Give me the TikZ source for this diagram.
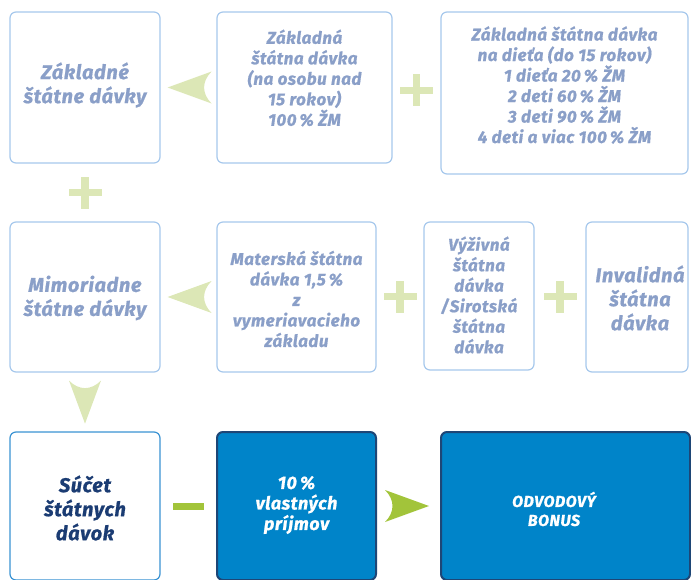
\documentclass[tikz,border=0pt]{standalone}
\usepackage{fontspec}
\setmainfont{Fira Sans}[BoldItalicFeatures={LetterSpace=3,FakeBold=0.8}]
\usetikzlibrary{fit,calc}
\definecolor{boxblue}{HTML}{A6C8EC}
\definecolor{paletext}{HTML}{8A9FC8}
\definecolor{palegreen}{HTML}{DCE7B6}
\definecolor{brightgreen}{HTML}{A2C43A}
\definecolor{bluefill}{HTML}{0084C9}
\definecolor{navy}{HTML}{1E4676}
\definecolor{sumborder}{HTML}{3A93D3}
\definecolor{sumtext}{HTML}{1B3C73}
\begin{document}
\begin{tikzpicture}[x=1pt,y=-1pt,
  pbox/.style={draw=boxblue, line width=1.2pt, rounded corners=6pt, fill=white, inner sep=0pt},
  sbox/.style={draw=sumborder, line width=1.2pt, rounded corners=6pt, fill=white, inner sep=0pt},
  dbox/.style={draw=navy, line width=2pt, rounded corners=6pt, fill=bluefill, inner sep=0pt},
  ptext/.style={text=paletext, align=center, inner sep=0pt},
  big/.style={font=\fontsize{20}{24}\selectfont\bfseries\itshape},
  mid/.style={font=\fontsize{17}{20.5}\selectfont\bfseries\itshape},
  plussign/.pic={\fill[palegreen] (-16.5,-3.5) rectangle (16.5,3.5); \fill[palegreen] (-3.75,-16) rectangle (3.75,16);},
  larrow/.pic={\fill[palegreen] (0,0) -- (44,-16) .. controls (34,-6) and (34,6) .. (44,16) -- cycle;},
  darrow/.pic={\fill[palegreen] (0,0) -- (-16,-43) .. controls (-6,-33) and (6,-33) .. (16,-43) -- cycle;},
  rarrow/.pic={\fill[brightgreen] (0,0) -- (-44,-16) .. controls (-34,-6) and (-34,6) .. (-44,16) -- cycle;}
]
\useasboundingbox (0,0) rectangle (691,579);
% row 1
\node[pbox, fit={(10,12) (160,163)}] (b1) {};
\node[pbox, fit={(217,12) (392,163)}] (b2) {};
\node[pbox, fit={(441,12) (688,174)}] (b3) {};
% row 2
\node[pbox, fit={(10,222) (160,372)}] (m1) {};
\node[pbox, fit={(217,222) (376,372)}] (m2) {};
\node[pbox, fit={(424,222) (534,370)}] (m3) {};
\node[pbox, fit={(586,222) (688,372)}] (m4) {};
% row 3
\node[sbox, fit={(10,432) (160,580)}] (s1) {};
\node[dbox, fit={(217,432) (376,580)}] (s2) {};
\node[dbox, fit={(441,432) (690,580)}] (s3) {};
% texts
\node[ptext, big] (b1t) at (85,85) {Základné\\štátne dávky};
\node[ptext, mid] (b2t) at (304.5,78) {Základná\\štátna dávka\\(na osobu nad\\15 rokov)\\100\,\% ŽM};
\node[ptext, mid] (b3t) at (564.5,85) {Základná štátna dávka\\na dieťa (do 15 rokov)\\1 dieťa 20\,\% ŽM\\2 deti 60\,\% ŽM\\3 deti 90\,\% ŽM\\4 deti a viac 100\,\% ŽM};
\node[ptext, big] (m1t) at (85,298) {Mimoriadne\\štátne dávky};
\node[ptext, mid] (m2t) at (296.5,299) {Materská štátna\\dávka 1,5\,\%\\z\\vymeriavacieho\\základu};
\node[ptext, mid] (m3t) at (479,295) {Výživná\\štátna\\dávka\\/Sirotská\\štátna\\dávka};
\node[ptext, big] (m4t) at (640,298) {Invalidná\\štátna\\dávka};
\node[text=sumtext, align=center, inner sep=0pt, big] (s1t) at (85,508) {Súčet\\štátnych\\dávok};
\node[text=white, align=center, inner sep=0pt, font=\fontsize{18}{20.5}\selectfont\bfseries\itshape] (s2t) at (296.5,505) {10\,\%\\vlastných\\príjmov};
\node[text=white, align=center, inner sep=0pt, font=\fontsize{16}{19}\selectfont\bfseries\itshape] (s3t) at (554,509) {ODVODOVÝ\\BONUS};
% plus signs
\pic at ($(b2.east)!0.5!(b3.west)$) {plussign};
\pic at ($(b1.south)!0.5!(m1.north)$) {plussign};
\pic at ($(m2.east)!0.5!(m3.west)$) {plussign};
\pic at ($(m3.east)!0.5!(m4.west)$) {plussign};
% arrows
\pic at ($(b1.east)+(7,0)$) {larrow};
\pic at ($(m1.east)+(7,0)$) {larrow};
\pic at ($(m1.south)+(0,51)$) {darrow};
\pic at ($(s3.west)+(-11,0)$) {rarrow};
% minus
\fill[brightgreen] ($(s1.east)+(12,-3.5)$) rectangle ($(s2.west)+(-12,3.5)$);
\end{tikzpicture}
\end{document}
